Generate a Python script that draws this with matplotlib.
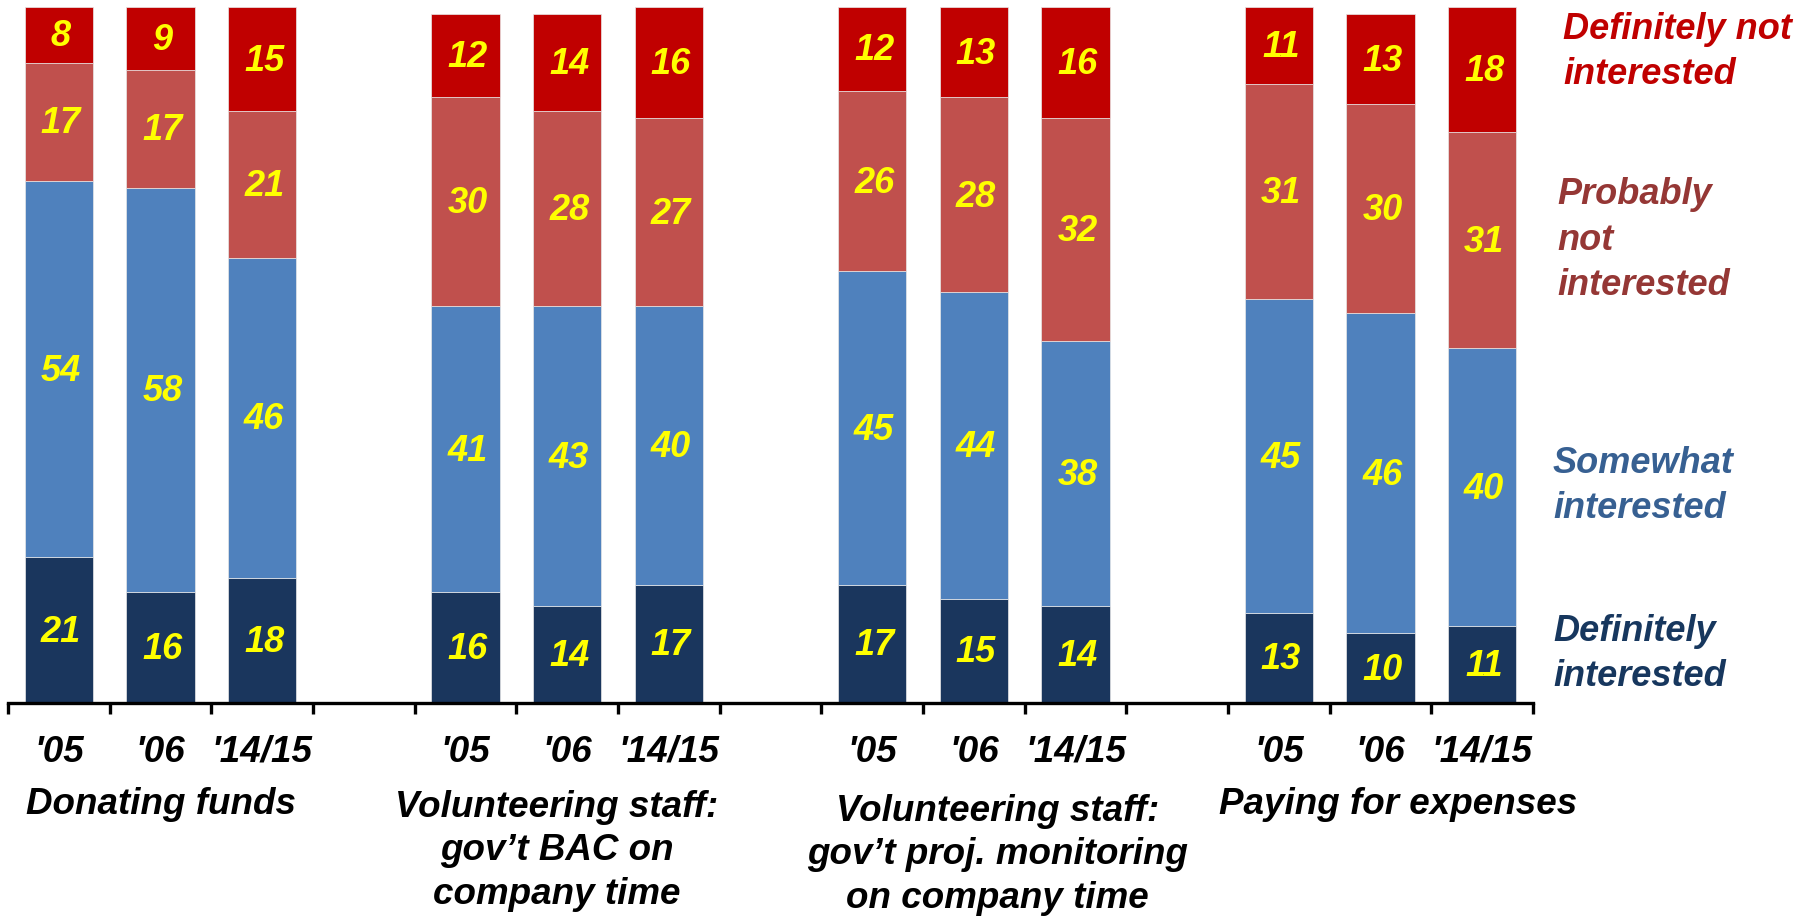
import matplotlib
matplotlib.use("Agg")
import matplotlib.pyplot as plt
import numpy as np

# ---------------- data ----------------
groups = ["Donating funds",
          "Volunteering staff:\ngov\u2019t BAC on\ncompany time",
          "Volunteering staff:\ngov\u2019t proj. monitoring\non company time",
          "Paying for expenses"]
years = ["'05", "'06", "'14/15"]
series_names = ["Definitely\ninterested", "Somewhat\ninterested",
                "Probably\nnot\ninterested", "Definitely not\ninterested"]
definitely_interested = [21, 16, 18, 16, 14, 17, 17, 15, 14, 13, 10, 11]
somewhat_interested = [54, 58, 46, 41, 43, 40, 45, 44, 38, 45, 46, 40]
probably_not = [17, 17, 21, 30, 28, 27, 26, 28, 32, 31, 30, 31]
definitely_not = [8, 9, 15, 12, 14, 16, 12, 13, 16, 11, 13, 18]

# ---------------- style ----------------
seg_colors = ["#1A365D", "#4F81BD", "#C0504D", "#C00000"]
legend_colors = ["#17375E", "#376092", "#953735", "#C00000"]
FONT = "Liberation Sans"

W, H = 1800, 916
fig = plt.figure(figsize=(W / 100, H / 100), dpi=100)
x0, x1 = 8, 1533
ybot, ytop = 703, 7
ax = fig.add_axes([x0 / W, 1 - ybot / H, (x1 - x0) / W, (ybot - ytop) / H])
ax.set_xlim(-0.5, 14.5)
ax.set_ylim(0, 100)

series = [definitely_interested, somewhat_interested, probably_not, definitely_not]
xpos = np.array([4 * g + j for g in range(4) for j in range(3)], dtype=float)
bottom = np.zeros(len(xpos))
for vals, col in zip(series, seg_colors):
    vals = np.array(vals, dtype=float)
    ax.bar(xpos, vals, bottom=bottom, width=0.67, color=col,
           edgecolor="#E8E8E8", linewidth=0.5)
    for x, b, v in zip(xpos, bottom, vals):
        ax.text(x + 0.02, b + v / 2 - 0.3, f"{int(v)}", ha="center", va="center",
                color="#FFFF00", fontsize=26, fontweight="bold",
                fontstyle="italic", family=FONT)
    bottom += vals

for s in ["top", "right", "left"]:
    ax.spines[s].set_visible(False)
ax.spines["bottom"].set_linewidth(2.4)
ax.set_xticks(np.arange(-0.5, 15, 1.0))
ax.set_xticklabels([])
ax.tick_params(axis="x", direction="out", length=8, width=2.4)
ax.set_yticks([])

px_per_unit = (ybot - ytop) / 100.0
def ydata(py):
    return (ybot - py) / px_per_unit

# year tick labels
for i, x in enumerate(xpos):
    ax.text(x, ydata(752), years[i % 3], ha="center", va="center",
            fontsize=26.5, fontweight="bold", fontstyle="italic",
            family=FONT, color="black", clip_on=False)

# group labels
group_offsets = [0.0, -0.1, 0.23, 0.17]
group_y = [804, 851, 855, 804]
for g, (lab, off, gy) in enumerate(zip(groups, group_offsets, group_y)):
    ax.text(4 * g + 1 + off, ydata(gy), lab, ha="center", va="center",
            fontsize=26.5, fontweight="bold", fontstyle="italic",
            family=FONT, color="black", linespacing=1.33, clip_on=False)

# right-side legend labels
leg_x = [1553, 1553, 1557, 1563]
leg_y = [654, 486, 240, 52]
for name, col, lx, ly in zip(series_names, legend_colors, leg_x, leg_y):
    fig.text(lx / W, 1 - ly / H, name, ha="left", va="center",
             fontsize=26, fontweight="bold", fontstyle="italic",
             family=FONT, color=col, linespacing=1.38)

fig.savefig("out.png", dpi=100)
